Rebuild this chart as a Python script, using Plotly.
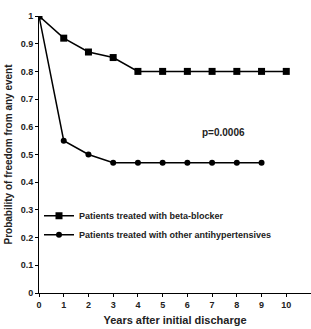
import plotly.graph_objects as go

years_bb = [0, 1, 2, 3, 4, 5, 6, 7, 8, 9, 10]
prob_bb = [1.0, 0.92, 0.87, 0.85, 0.80, 0.80, 0.80, 0.80, 0.80, 0.80, 0.80]
years_oth = [0, 1, 2, 3, 4, 5, 6, 7, 8, 9]
prob_oth = [1.0, 0.55, 0.50, 0.47, 0.47, 0.47, 0.47, 0.47, 0.47, 0.47]
name_bb = "Patients treated with beta-blocker"
name_oth = "Patients treated with other antihypertensives"
x_ticks = list(range(0, 11))
y_ticks = [0, 0.1, 0.2, 0.3, 0.4, 0.5, 0.6, 0.7, 0.8, 0.9, 1]
y_tick_labels = ["0", "0.1", "0.2", "0.3", "0.4", "0.5", "0.6", "0.7", "0.8", "0.9", "1"]

font_family = "Liberation Sans, Arial, sans-serif"

fig = go.Figure()
fig.add_trace(go.Scatter(x=years_bb, y=prob_bb, mode="lines+markers", name=f"<b>{name_bb}</b>",
                         line=dict(color="black", width=1.5),
                         marker=dict(symbol="square", size=7, color="black")))
fig.add_trace(go.Scatter(x=years_oth, y=prob_oth, mode="lines+markers", name=f"<b>{name_oth}</b>",
                         line=dict(color="black", width=1.5),
                         marker=dict(symbol="circle", size=6, color="black")))

fig.add_annotation(x=7.45, y=0.58, text="<b>p=0.0006</b>", showarrow=False,
                   font=dict(family=font_family, size=10, color="#222"))

fig.update_layout(
    width=311, height=329,
    margin=dict(l=39, r=0, t=16, b=36),
    plot_bgcolor="white", paper_bgcolor="white",
    font=dict(family=font_family, size=9, color="#222"),
    showlegend=True,
    legend=dict(x=0.0, y=0.245, xanchor="left", yanchor="middle",
                bgcolor="rgba(0,0,0,0)", itemwidth=30, tracegroupgap=0,
                font=dict(family=font_family, size=9, color="#222"),
                itemclick=False),
    xaxis=dict(range=[0, 11], tickvals=x_ticks, ticktext=[f"<b>{v}</b>" for v in x_ticks],
               showline=True, linecolor="black", linewidth=1, showgrid=False, zeroline=False,
               ticks="outside", ticklen=3, tickcolor="black", automargin=False,
               title=dict(text="<b>Years after initial discharge</b>", standoff=7,
                          font=dict(family=font_family, size=11, color="#222"))),
    yaxis=dict(range=[0, 1.0], tickvals=y_ticks, ticktext=[f"<b>{t}</b>" for t in y_tick_labels],
               showline=True, linecolor="black", linewidth=1, showgrid=False, zeroline=False,
               ticks="outside", ticklen=3, tickcolor="black", automargin=False,
               title=dict(text="<b>Probability of freedom from any event</b>", standoff=6,
                          font=dict(family=font_family, size=10, color="#222"))),
)
fig.write_html("out.html")
